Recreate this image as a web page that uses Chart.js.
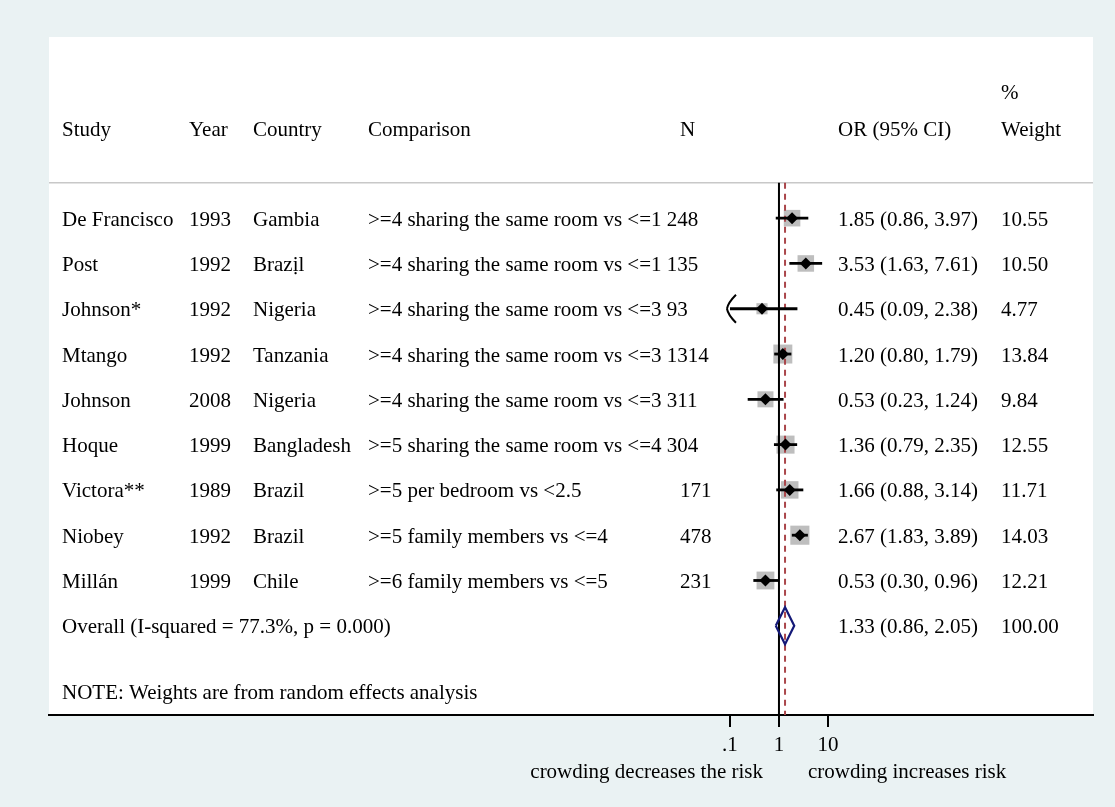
<!DOCTYPE html>
<html>
<head>
<meta charset="utf-8">
<title>Crowding forest plot</title>
<script src="https://cdn.jsdelivr.net/npm/chart.js@4/dist/chart.umd.min.js"></script>
<style>
  html, body { margin: 0; padding: 0; background: rgb(234,242,243); }
  #wrap { width: 1115px; height: 807px; position: relative; }
</style>
</head>
<body>
<div id="wrap"><canvas id="forest"></canvas></div>
<script>
// 
// Study rows.
// 
var studies = ['De Francisco', 'Post', 'Johnson*', 'Mtango', 'Johnson', 'Hoque', 'Victora**', 'Niobey', 'Millán'];
var years = ['1993', '1992', '1992', '1992', '2008', '1999', '1989', '1992', '1999'];
var countries = ['Gambia', 'Brazịl', 'Nigeria', 'Tanzania', 'Nigeria', 'Bangladesh', 'Brazil', 'Brazil', 'Chile'];
var comparisons = [
    '>=4 sharing the same room vs <=1',
    '>=4 sharing the same room vs <=1',
    '>=4 sharing the same room vs <=3',
    '>=4 sharing the same room vs <=3',
    '>=4 sharing the same room vs <=3',
    '>=5 sharing the same room vs <=4',
    '>=5 per bedroom vs <2.5',
    '>=5 family members vs <=4',
    '>=6 family members vs <=5'
];
var sampleN = ['248', '135', '93', '1314', '311', '304', '171', '478', '231'];
var oddsRatio = [1.85, 3.53, 0.45, 1.20, 0.53, 1.36, 1.66, 2.67, 0.53];
var lowerCI = [0.86, 1.63, 0.09, 0.80, 0.23, 0.79, 0.88, 1.83, 0.30];
var upperCI = [3.97, 7.61, 2.38, 1.79, 1.24, 2.35, 3.14, 3.89, 0.96];
var weights = [10.55, 10.50, 4.77, 13.84, 9.84, 12.55, 11.71, 14.03, 12.21];

var overallOR = 1.33;
var overallLower = 0.86;
var overallUpper = 2.05;
var overallLabel = 'Overall (I-squared = 77.3%, p = 0.000)';
var noteLabel = 'NOTE: Weights are from random effects analysis';

var tickValues = [0.1, 1, 10];
var tickLabels = ['.1', '1', '10'];
var axisLeftText = 'crowding decreases the risk';
var axisRightText = 'crowding increases risk';

var FONT = '21px "Liberation Serif", "Times New Roman", serif';
var overallRow = studies.length;   // row index of the pooled estimate
var xClip = Math.log10(tickValues[0]);

function lg(v) {
    return Math.log10(v);
}

// 
// Build the datasets from the arrays above.
// 
var datasets = [];

// point estimates (black diamonds), on top
datasets.push({
    type: 'scatter',
    order: 0,
    data: oddsRatio.map(function (v, i) { return {x: lg(v), y: i}; }),
    pointStyle: 'rectRot',
    pointRadius: 6,
    backgroundColor: '#000',
    borderColor: '#000',
    borderWidth: 0
});

// confidence intervals, clipped at the lowest tick
for (var i = 0; i < studies.length; ++i) {
    datasets.push({
        type: 'line',
        order: 1,
        data: [
            {x: Math.max(lg(lowerCI[i]), xClip), y: i},
            {x: lg(upperCI[i]), y: i}
        ],
        borderColor: '#000',
        borderWidth: 2.8,
        pointRadius: 0,
        fill: false
    });
}

// pooled estimate diamond
datasets.push({
    type: 'line',
    order: 1,
    data: [
        {x: lg(overallLower), y: overallRow},
        {x: lg(overallOR), y: overallRow - 0.41},
        {x: lg(overallUpper), y: overallRow},
        {x: lg(overallOR), y: overallRow + 0.41},
        {x: lg(overallLower), y: overallRow}
    ],
    borderColor: 'rgb(20,25,120)',
    borderWidth: 2.2,
    pointRadius: 0,
    fill: false,
    tension: 0
});

// line of no effect and pooled estimate line
datasets.push({
    type: 'line',
    order: 2,
    data: [{x: 0, y: -0.78}, {x: 0, y: 10.97}],
    borderColor: '#000',
    borderWidth: 2,
    pointRadius: 0
});
datasets.push({
    type: 'line',
    order: 2,
    data: [{x: lg(overallOR), y: -0.78}, {x: lg(overallOR), y: 10.97}],
    borderColor: 'rgb(170,70,75)',
    borderWidth: 2,
    borderDash: [6, 5],
    pointRadius: 0
});

// weight boxes, square area proportional to study weight
datasets.push({
    type: 'scatter',
    order: 3,
    data: oddsRatio.map(function (v, i) { return {x: lg(v), y: i}; }),
    pointStyle: 'rect',
    pointRadius: weights.map(function (w) { return 5.1 * Math.sqrt(w) / Math.SQRT2; }),
    backgroundColor: 'rgb(190,190,190)',
    borderWidth: 0
});

// 
// Background, plot region and the separator under the header.
// 
var framePlugin = {
    id: 'frame',
    beforeDraw: function (chart) {
        var ctx = chart.ctx, a = chart.chartArea, y = chart.scales.y;
        ctx.save();
        ctx.fillStyle = 'rgb(234,242,243)';
        ctx.fillRect(0, 0, chart.width, chart.height);
        ctx.fillStyle = '#fff';
        ctx.fillRect(a.left, a.top, a.right - a.left, a.bottom - a.top);
        ctx.strokeStyle = 'rgb(200,200,200)';
        ctx.lineWidth = 1.5;
        ctx.beginPath();
        ctx.moveTo(a.left, y.getPixelForValue(-0.78));
        ctx.lineTo(a.right, y.getPixelForValue(-0.78));
        ctx.stroke();
        ctx.restore();
    }
};

// 
// Text columns, the clipped-interval arrow and the axis captions.
// 
var textPlugin = {
    id: 'columns',
    afterDatasetsDraw: function (chart) {
        var ctx = chart.ctx, x = chart.scales.x, y = chart.scales.y;
        ctx.save();
        ctx.font = FONT;
        ctx.fillStyle = '#000';
        ctx.textBaseline = 'middle';
        ctx.textAlign = 'left';

        var hy = y.getPixelForValue(-1.93);
        ctx.fillText('%', 1001, y.getPixelForValue(-2.75));
        ctx.fillText('Study', 62, hy);
        ctx.fillText('Year', 189, hy);
        ctx.fillText('Country', 253, hy);
        ctx.fillText('Comparison', 368, hy);
        ctx.fillText('N', 680, hy);
        ctx.fillText('OR (95% CI)', 838, hy);
        ctx.fillText('Weight', 1001, hy);

        for (var i = 0; i < studies.length; ++i) {
            var ry = y.getPixelForValue(i) + 2;
            ctx.fillText(studies[i], 62, ry);
            ctx.fillText(years[i], 189, ry);
            ctx.fillText(countries[i], 253, ry);
            ctx.fillText(comparisons[i], 368, ry);
            // long comparisons push the N value along, as the padded Stata strings do
            var end = 368 + ctx.measureText(comparisons[i] + ' ').width;
            ctx.fillText(sampleN[i], end > 640 ? end : 680, ry);
            ctx.fillText(oddsRatio[i].toFixed(2) + ' (' + lowerCI[i].toFixed(2) + ', ' +
                    upperCI[i].toFixed(2) + ')', 838, ry);
            ctx.fillText(weights[i].toFixed(2), 1001, ry);

            if (lg(lowerCI[i]) < xClip) {
                var ax = x.getPixelForValue(xClip) - 3;
                var ly = ry - 2;
                ctx.strokeStyle = '#000';
                ctx.lineWidth = 2;
                ctx.beginPath();
                ctx.moveTo(ax + 9, ly - 14);
                ctx.quadraticCurveTo(ax + 1, ly - 6, ax, ly);
                ctx.moveTo(ax + 9, ly + 14);
                ctx.quadraticCurveTo(ax + 1, ly + 6, ax, ly);
                ctx.stroke();
            }
        }

        var oy = y.getPixelForValue(overallRow) + 2;
        ctx.fillText(overallLabel, 62, oy);
        ctx.fillText(overallOR.toFixed(2) + ' (' + overallLower.toFixed(2) + ', ' +
                overallUpper.toFixed(2) + ')', 838, oy);
        ctx.fillText('100.00', 1001, oy);
        ctx.fillText(noteLabel, 62, y.getPixelForValue(10.5));

        var cx = x.getPixelForValue(0);
        ctx.textAlign = 'right';
        ctx.fillText(axisLeftText, cx - 16, 772);
        ctx.textAlign = 'left';
        ctx.fillText(axisRightText, cx + 29, 772);
        ctx.restore();
    }
};

new Chart(document.getElementById('forest'), {
    data: {datasets: datasets},
    options: {
        responsive: true,
        maintainAspectRatio: false,
        animation: false,
        events: [],
        layout: {padding: {left: 49, right: 22, top: 37, bottom: 0}},
        plugins: {
            legend: {display: false},
            tooltip: {enabled: false}
        },
        scales: {
            x: {
                type: 'linear',
                min: -14.9,
                max: 6.41,
                afterBuildTicks: function (scale) {
                    scale.ticks = tickValues.map(function (v) { return {value: lg(v)}; });
                },
                afterFit: function (scale) {
                    scale.height = 92;
                },
                ticks: {
                    autoSkip: false,
                    maxRotation: 0,
                    padding: 6,
                    color: '#000',
                    font: {family: '"Liberation Serif", "Times New Roman", serif', size: 21},
                    callback: function (value, index) {
                        return tickLabels[index];
                    }
                },
                grid: {
                    display: true,
                    drawOnChartArea: false,
                    drawTicks: true,
                    tickLength: 12,
                    color: '#000',
                    lineWidth: 2
                },
                border: {display: true, color: '#000', width: 2}
            },
            y: {
                type: 'linear',
                display: false,
                reverse: true,
                min: -4,
                max: 10.97
            }
        }
    },
    plugins: [framePlugin, textPlugin]
});
</script>
</body>
</html>
